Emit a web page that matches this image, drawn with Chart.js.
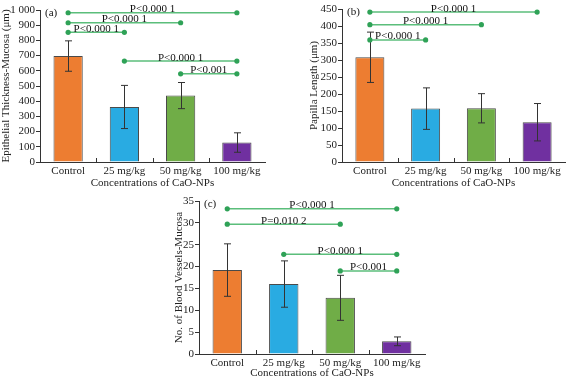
<!DOCTYPE html>
<html>
<head>
<meta charset="utf-8">
<script src="https://cdn.jsdelivr.net/npm/chart.js@4.4.0/dist/chart.umd.min.js"></script>
<style>
  body { margin: 0; background: #fff; width: 568px; height: 383px; position: relative; overflow: hidden; }
  canvas { position: absolute; }
</style>
</head>
<body>
<canvas id="chartA" width="285" height="190" style="left:0;top:0"></canvas>
<canvas id="chartB" width="260" height="190" style="left:308px;top:0"></canvas>
<canvas id="chartC" width="260" height="190" style="left:173px;top:190px"></canvas>
<script>
// categories
const categories = ['Control', '25 mg/kg', '50 mg/kg', '100 mg/kg'];

// (a) epithelial thickness
const thicknessMeans = [697, 362, 437, 128];
const thicknessErrors = [100, 142, 86, 64];
const thicknessPairs = [[0, 1], [0, 2], [0, 3], [1, 3], [2, 3]];
const thicknessLevels = [853, 916, 982, 664, 580];
const thicknessLabels = ['P<0.000 1', 'P<0.000 1', 'P<0.000 1', 'P<0.000 1', 'P<0.001'];

// (b) papilla length
const papillaMeans = [308, 157, 158, 117];
const papillaErrors = [74, 61, 43, 55];
const papillaPairs = [[0, 1], [0, 2], [0, 3]];
const papillaLevels = [359, 404, 441];
const papillaLabels = ['P<0.000 1', 'P<0.000 1', 'P<0.000 1'];

// (c) blood vessels
const vesselMeans = [19.2, 16.0, 12.85, 2.9];
const vesselErrors = [6.0, 5.3, 5.15, 1.0];
const vesselPairs = [[0, 3], [0, 2], [1, 3], [2, 3]];
const vesselLevels = [33.2, 29.7, 22.8, 19.0];
const vesselLabels = ['P<0.000 1', 'P=0.010 2', 'P<0.000 1', 'P<0.001'];

const barColors = ['#ED7D31', '#29ABE2', '#70AD47', '#7030A0'];

Chart.defaults.font.family = 'Liberation Serif';
Chart.defaults.font.size = 11;
Chart.defaults.color = '#222';

const extras = {
  id: 'extras',
  afterDatasetsDraw(chart, args, opts) {
    const { ctx, chartArea, scales: { x, y } } = chart;
    const means = chart.data.datasets[0].data;
    ctx.save();
    // error bars
    ctx.strokeStyle = '#333';
    ctx.lineWidth = 1;
    means.forEach((m, i) => {
      const px = Math.round(x.getPixelForValue(i)) + 0.5;
      const t = y.getPixelForValue(m + opts.errors[i]);
      const b = y.getPixelForValue(m - opts.errors[i]);
      ctx.beginPath();
      ctx.moveTo(px, t); ctx.lineTo(px, b);
      ctx.moveTo(px - 3.5, t); ctx.lineTo(px + 3.5, t);
      ctx.moveTo(px - 3.5, b); ctx.lineTo(px + 3.5, b);
      ctx.stroke();
    });
    // small inward ticks between categories
    for (let i = 1; i < means.length; i++) {
      const px = Math.round((x.getPixelForValue(i - 1) + x.getPixelForValue(i)) / 2) + 0.5;
      ctx.beginPath();
      ctx.moveTo(px, chartArea.bottom);
      ctx.lineTo(px, chartArea.bottom - 4);
      ctx.stroke();
    }
    // significance lines
    opts.pairs.forEach((p, k) => {
      const x1 = x.getPixelForValue(p[0]);
      const x2 = x.getPixelForValue(p[1]);
      const py = y.getPixelForValue(opts.levels[k]);
      ctx.strokeStyle = '#5BBE7B';
      ctx.lineWidth = 1.5;
      ctx.beginPath();
      ctx.moveTo(x1, py); ctx.lineTo(x2, py);
      ctx.stroke();
      ctx.fillStyle = '#2FA257';
      [x1, x2].forEach(px => {
        ctx.beginPath();
        ctx.arc(px, py, 2.6, 0, Math.PI * 2);
        ctx.fill();
      });
      ctx.fillStyle = '#111';
      ctx.font = '11px "Liberation Serif"';
      ctx.textAlign = 'center';
      ctx.textBaseline = 'alphabetic';
      ctx.fillText(opts.labels[k], (x1 + x2) / 2, py - 0.5);
    });
    // panel tag
    ctx.fillStyle = '#111';
    ctx.textAlign = 'left';
    ctx.textBaseline = 'top';
    ctx.fillText(opts.tag, chartArea.left + 5, chartArea.top - 2);
    ctx.restore();
  }
};

function makeChart(id, cfg) {
  return new Chart(document.getElementById(id), {
    type: 'bar',
    data: {
      labels: categories,
      datasets: [{
        data: cfg.means,
        backgroundColor: barColors,
        borderColor: '#4a4a4a',
        borderWidth: 1,
        barPercentage: 0.52,
        categoryPercentage: 1
      }]
    },
    options: {
      responsive: false,
      animation: false,
      layout: { padding: cfg.padding },
      plugins: {
        legend: { display: false },
        tooltip: { enabled: false },
        extras: { errors: cfg.errors, pairs: cfg.pairs, levels: cfg.levels, labels: cfg.labels, tag: cfg.tag }
      },
      scales: {
        x: {
          grid: { display: false, drawTicks: false },
          border: { display: true, color: '#333', width: 1 },
          ticks: { padding: 3, color: '#222', maxRotation: 0, autoSkip: false },
          title: { display: true, text: 'Concentrations of CaO-NPs', color: '#222', padding: 0 },
          afterFit(s) { s.height = cfg.xHeight; }
        },
        y: {
          min: 0,
          max: cfg.max,
          grid: { display: true, drawOnChartArea: false, drawTicks: true, tickLength: 4, color: '#333' },
          border: { display: true, color: '#333', width: 1 },
          ticks: {
            stepSize: cfg.step,
            autoSkip: false,
            padding: 1,
            color: '#222',
            callback: v => String(v).replace(/\B(?=(\d{3})+(?!\d))/g, ' ')
          },
          title: { display: true, text: cfg.yTitle, color: '#222', padding: 0 },
          afterFit(s) { s.width = cfg.yWidth; }
        }
      }
    },
    plugins: [extras]
  });
}

makeChart('chartA', {
  means: thicknessMeans, errors: thicknessErrors,
  pairs: thicknessPairs, levels: thicknessLevels, labels: thicknessLabels,
  tag: '(a)', max: 1000, step: 100, yTitle: 'Epithelial Thickness-Mucosa (μm)',
  yWidth: 40, xHeight: 28, padding: { top: 10, right: 20, left: 0, bottom: 0 }
});

makeChart('chartB', {
  means: papillaMeans, errors: papillaErrors,
  pairs: papillaPairs, levels: papillaLevels, labels: papillaLabels,
  tag: '(b)', max: 450, step: 50, yTitle: 'Papilla Length (μm)',
  yWidth: 34, xHeight: 28, padding: { top: 9, right: 3, left: 0, bottom: 0 }
});

makeChart('chartC', {
  means: vesselMeans, errors: vesselErrors,
  pairs: vesselPairs, levels: vesselLevels, labels: vesselLabels,
  tag: '(c)', max: 35, step: 5, yTitle: 'No. of Blood Vessels-Mucosa',
  yWidth: 26, xHeight: 26, padding: { top: 11, right: 8, left: 0, bottom: 0 }
});
</script>
</body>
</html>
